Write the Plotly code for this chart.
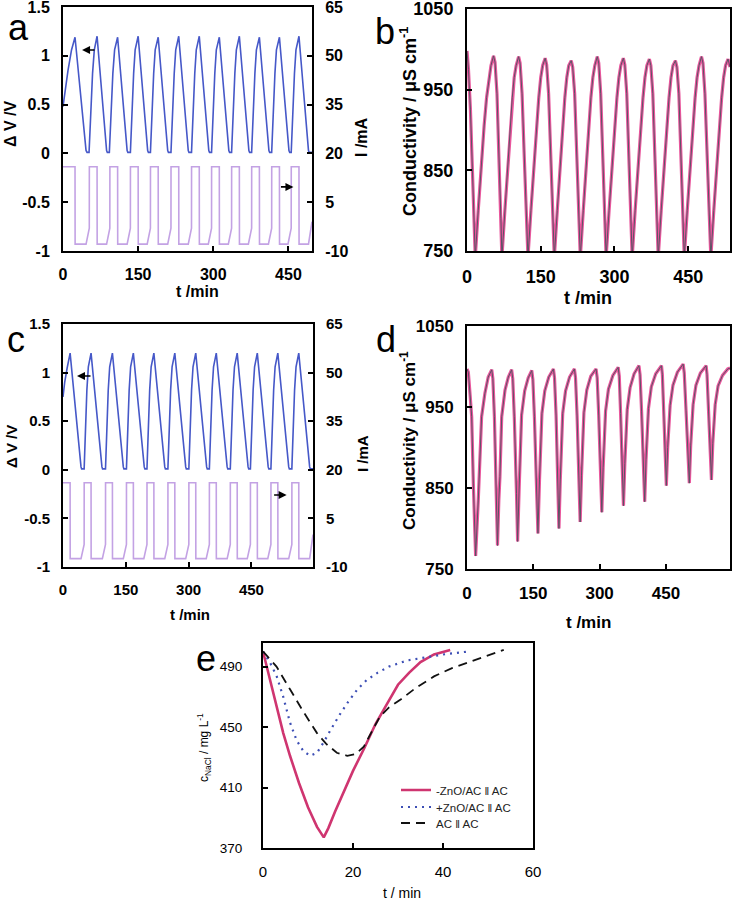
import plotly.graph_objects as go

# ---------------- DATA ----------------
# Panel a : cell voltage (V) and current (mA) vs time (min)
a_t_v = [0, 4, 10, 17, 24,
         46, 48, 52, 53, 56, 59, 62.5, 68,
         87, 88.5, 92.5, 93.5, 96, 99.5, 103, 109,
         128, 129.5, 134.5, 135.5, 138, 141, 144, 150,
         169, 170.5, 174.5, 175.5, 178, 181, 184, 190,
         209, 210.5, 215.5, 216.5, 219, 222, 225, 231,
         250, 251.5, 256.5, 257.5, 260, 263, 266, 272,
         291, 292.5, 296.5, 297.5, 300, 303, 306, 312,
         331, 332.5, 336.5, 337.5, 340, 343, 346, 352,
         371, 372.5, 376.5, 377.5, 380, 383, 386, 392,
         411, 412.5, 416.5, 417.5, 420, 423, 426, 432,
         451, 452.5, 455.5, 456.5, 459, 462, 465, 471,
         490, 491.5, 497]
a_v = [0.48, 0.65, 0.85, 1.06, 1.19,
       0.03, 0.01, 0.01, 0.15, 0.45, 0.82, 1.06, 1.2,
       0.03, 0.01, 0.01, 0.15, 0.45, 0.82, 1.06, 1.19,
       0.03, 0.01, 0.01, 0.15, 0.45, 0.82, 1.06, 1.2,
       0.03, 0.01, 0.01, 0.15, 0.45, 0.82, 1.06, 1.19,
       0.03, 0.01, 0.01, 0.15, 0.45, 0.82, 1.06, 1.2,
       0.03, 0.01, 0.01, 0.15, 0.45, 0.82, 1.06, 1.2,
       0.03, 0.01, 0.01, 0.15, 0.45, 0.82, 1.06, 1.19,
       0.03, 0.01, 0.01, 0.15, 0.45, 0.82, 1.06, 1.2,
       0.03, 0.01, 0.01, 0.15, 0.45, 0.82, 1.06, 1.19,
       0.03, 0.01, 0.01, 0.15, 0.45, 0.82, 1.06, 1.19,
       0.03, 0.01, 0.01, 0.15, 0.45, 0.82, 1.06, 1.2,
       0.03, 0.01, 0.01]
a_t_i = [0, 24, 24.2, 46, 52.5, 52.6,
         68, 68.2, 87, 93.5, 93.6,
         109, 109.2, 128, 134.5, 134.6,
         150, 150.2, 168, 174.5, 174.6,
         190, 190.2, 209, 215.5, 215.6,
         231, 231.2, 250, 256.5, 256.6,
         272, 272.2, 290, 296.5, 296.6,
         312, 312.2, 330, 336.5, 336.6,
         352, 352.2, 370, 376.5, 376.6,
         392, 392.2, 410, 416.5, 416.6,
         432, 432.2, 449, 455.5, 455.6,
         471, 471.2, 490, 497]
a_i = [15.9, 15.9, -7.9, -7.9, -3, 15.9,
       15.9, -7.9, -7.9, -3, 15.9,
       15.9, -7.9, -7.9, -3, 15.9,
       15.9, -7.9, -7.9, -3, 15.9,
       15.9, -7.9, -7.9, -3, 15.9,
       15.9, -7.9, -7.9, -3, 15.9,
       15.9, -7.9, -7.9, -3, 15.9,
       15.9, -7.9, -7.9, -3, 15.9,
       15.9, -7.9, -7.9, -3, 15.9,
       15.9, -7.9, -7.9, -3, 15.9,
       15.9, -7.9, -7.9, -3, 15.9,
       15.9, -7.9, -7.9, -1]

# Panel b : conductivity (uS/cm) vs time (min)
b_t = [0, 3, 7, 11, 15, 16.8,
       22.8, 28.8, 34.8, 39.8, 44.8, 48.8, 54, 57, 61, 65, 69, 71,
       77, 83, 88, 92, 96, 100, 105, 108, 112, 116, 120, 124,
       130, 136, 141, 146, 150, 154, 159, 162, 166, 170, 174, 177.6,
       183.6, 189.6, 194.6, 199, 203, 207, 212, 215, 219, 223, 227, 230.5,
       236.5, 242.5, 247.5, 252, 256, 260, 265, 268, 272, 276, 280, 283,
       289, 295, 300, 305, 309, 313, 318, 321, 325, 329, 333, 336,
       342, 348, 353, 358, 362, 366, 371, 374, 378, 382, 386, 389,
       395, 401, 406, 411, 415, 419, 424, 427, 431, 435, 439, 442,
       448, 454, 459, 464, 468, 472, 477, 480, 484, 488, 492, 496,
       502, 508, 513, 518, 522, 526, 531, 534, 535]
b_c = [998, 975, 925, 860, 785, 742,
       800, 855, 905, 940, 965, 980, 992, 984, 945, 875, 790, 742,
       800, 855, 905, 940, 965, 980, 991, 983, 945, 875, 790, 742,
       800, 855, 905, 940, 965, 980, 989, 981, 945, 875, 790, 742,
       800, 855, 905, 940, 965, 980, 986, 978, 945, 875, 790, 742,
       800, 855, 905, 940, 965, 980, 991, 983, 945, 875, 790, 742,
       800, 855, 905, 940, 965, 980, 989, 981, 945, 875, 790, 742,
       800, 855, 905, 940, 965, 980, 988, 980, 945, 875, 790, 742,
       800, 855, 905, 940, 965, 980, 986, 978, 945, 875, 790, 742,
       800, 855, 905, 940, 965, 980, 991, 983, 945, 875, 790, 742,
       800, 855, 905, 940, 965, 980, 988, 982, 978]

# Panel c : cell voltage (V) and current (mA) vs time (min)
c_t_v = [0, 4, 10, 17,
         43, 44.5, 50.5, 51.5, 54, 57, 60.5, 67,
         93, 94.5, 101.5, 102.5, 105, 108, 111.5, 118,
         144, 145.5, 151.5, 152.5, 155, 158, 161.5, 168,
         194, 195.5, 200.5, 201.5, 204, 207, 210.5, 217,
         243, 244.5, 250.5, 251.5, 254, 257, 260.5, 267,
         293, 294.5, 300.5, 301.5, 304, 307, 310.5, 317,
         343, 344.5, 349.5, 350.5, 353, 356, 359.5, 366,
         392, 393.5, 399.5, 400.5, 403, 406, 409.5, 416,
         442, 443.5, 447.5, 448.5, 451, 454, 457.5, 464,
         490, 491.5, 496.5, 497.5, 500, 503, 506.5, 513,
         539, 540.5, 546.5, 547.5, 550, 553, 556.5, 563,
         589, 590.5, 597]
c_v = [0.75, 0.9, 1.05, 1.2,
       0.03, 0.01, 0.01, 0.15, 0.45, 0.82, 1.06, 1.2,
       0.03, 0.01, 0.01, 0.15, 0.45, 0.82, 1.06, 1.2,
       0.03, 0.01, 0.01, 0.15, 0.45, 0.82, 1.06, 1.2,
       0.03, 0.01, 0.01, 0.15, 0.45, 0.82, 1.06, 1.2,
       0.03, 0.01, 0.01, 0.15, 0.45, 0.82, 1.06, 1.2,
       0.03, 0.01, 0.01, 0.15, 0.45, 0.82, 1.06, 1.2,
       0.03, 0.01, 0.01, 0.15, 0.45, 0.82, 1.06, 1.2,
       0.03, 0.01, 0.01, 0.15, 0.45, 0.82, 1.06, 1.2,
       0.03, 0.01, 0.01, 0.15, 0.45, 0.82, 1.06, 1.2,
       0.03, 0.01, 0.01, 0.15, 0.45, 0.82, 1.06, 1.2,
       0.03, 0.01, 0.01, 0.15, 0.45, 0.82, 1.06, 1.2,
       0.03, 0.01, 0.01]
c_t_i = [0, 17, 17.2, 43, 50.5, 50.6,
         67, 67.2, 94, 101.5, 101.6,
         118, 118.2, 144, 151.5, 151.6,
         168, 168.2, 193, 200.5, 200.6,
         217, 217.2, 243, 250.5, 250.6,
         267, 267.2, 293, 300.5, 300.6,
         317, 317.2, 342, 349.5, 349.6,
         366, 366.2, 392, 399.5, 399.6,
         416, 416.2, 440, 447.5, 447.6,
         464, 464.2, 489, 496.5, 496.6,
         513, 513.2, 539, 546.5, 546.6,
         563, 563.2, 589, 597]
c_i = [16, 16, -7.4, -7.4, -3, 16,
       16, -7.4, -7.4, -3, 16,
       16, -7.4, -7.4, -3, 16,
       16, -7.4, -7.4, -3, 16,
       16, -7.4, -7.4, -3, 16,
       16, -7.4, -7.4, -3, 16,
       16, -7.4, -7.4, -3, 16,
       16, -7.4, -7.4, -3, 16,
       16, -7.4, -7.4, -3, 16,
       16, -7.4, -7.4, -3, 16,
       16, -7.4, -7.4, -3, 16,
       16, -7.4, -7.4, 0]

# Panel d : conductivity (uS/cm) vs time (min)
d_t = [0, 3, 7, 10.6, 14.3, 17.5, 19.5,
       25.5, 33, 40.5, 48, 56, 58.5, 62, 67, 69,
       72, 74.5, 78.5, 86, 93.5, 101, 103.5, 107, 112, 114.5,
       118, 120, 123.5, 130.5, 138.5, 146.5, 149, 152.5, 158, 160.5,
       164, 166, 169.5, 176, 185, 195.5, 198, 201.5, 206, 208,
       211, 213, 216.5, 223, 232, 243, 245.5, 249, 253.5, 256,
       259, 261, 264.5, 271, 280, 292, 294.5, 298, 302.5, 305,
       308, 310, 313.5, 320, 330, 342, 344.5, 347.5, 351.5, 354,
       357, 359, 362.5, 369, 378, 389, 391.5, 395, 399.5, 402,
       405, 407, 410.5, 417, 427, 440, 442, 445, 449, 451,
       454, 456, 459.5, 466, 476, 489, 491.5, 495.5, 500.5, 503,
       506, 508, 511.5, 518, 528, 541, 543, 546.5, 550.5, 553,
       556, 558, 561.5, 568, 578, 590, 595]
d_c = [997, 993, 965, 938, 856, 790, 766,
       835, 938, 967, 987, 996, 985, 938, 843, 779,
       835, 864, 938, 971, 987, 996, 985, 938, 843, 784,
       850, 875, 940, 970, 986, 995, 984, 938, 850, 794,
       860, 885, 942, 970, 987, 997, 986, 940, 855, 800,
       860, 888, 942, 970, 987, 997, 986, 940, 860, 808,
       865, 892, 943, 971, 988, 997, 986, 940, 865, 820,
       875, 900, 945, 972, 989, 999, 988, 942, 870, 828,
       880, 905, 947, 974, 991, 1001, 990, 944, 875, 833,
       885, 908, 948, 975, 991, 1001, 990, 945, 885, 853,
       900, 918, 952, 977, 993, 1003, 992, 946, 885, 856,
       902, 920, 953, 977, 992, 1001, 990, 945, 890, 860,
       905, 922, 953, 976, 989, 997, 998]

# Panel e : NaCl concentration (mg/L) vs time (min)
e_names = ["-ZnO/AC \u2016 AC", "+ZnO/AC \u2016 AC", "AC \u2016 AC"]
e1_t = [0, 1.5, 3, 4.5, 6, 8, 10, 12, 13.5, 14.5, 16, 18, 20, 22.5, 25, 27.5, 30, 32.5, 35, 38, 41.6]
e1_c = [500, 482, 463, 446, 431, 413, 397, 384, 377, 383, 394, 408, 421, 436, 452, 465, 478, 486, 493, 498, 501]
e2_t = [0, 1.5, 3, 4.5, 6, 7.5, 9, 10.5, 12, 13.5, 15, 17, 19, 21, 23, 25.5, 28, 32, 36, 40, 45.7]
e2_c = [500, 493, 484, 470, 453, 441, 434, 431, 433, 440, 448, 458, 467, 475, 481, 486, 490, 494, 496, 498, 500]
e3_t = [0, 3, 6, 9, 12, 14, 16.4, 18.7, 20.5, 22.4, 24, 26, 28, 30.5, 34, 38, 42, 45.3, 50, 53.5]
e3_c = [500, 490, 475, 460, 446, 439, 433, 431, 432, 437, 446, 457, 463, 468, 476, 483.5, 489, 492.5, 497, 501]

# tick labels
t_ticks = [0, 150, 300, 450]
t_text = ["0", "150", "300", "450"]
v_ticks = [1.5, 1, 0.5, 0, -0.5, -1]
v_text = ["1.5", "1", "0.5", "0", "-0.5", "-1"]
i_ticks = [65, 50, 35, 20, 5, -10]
i_text = ["65", "50", "35", "20", "5", "-10"]
k_ticks = [750, 850, 950, 1050]
k_text = ["750", "850", "950", "1050"]
e_x_ticks = [0, 20, 40, 60]
e_x_text = ["0", "20", "40", "60"]
e_y_ticks = [370, 410, 450, 490]
e_y_text = ["370", "410", "450", "490"]

# ---------------- FIGURE ----------------
W, H = 732, 905
FONT = "Liberation Sans, Arial, Helvetica, sans-serif"
V_COL = "#4658c8"
I_COL = "#c3a2e4"
PINK = "#e9579d"
GRAY = "#5a5464"


def px(x):
    return min(1.0, max(0.0, x / W))


def py(y):
    return min(1.0, max(0.0, 1 - y / H))


fig = go.Figure()
fig.add_trace(go.Scatter(x=a_t_v, y=a_v, xaxis="x", yaxis="y", mode="lines",
                         line=dict(color=V_COL, width=1.6), showlegend=False))
fig.add_trace(go.Scatter(x=a_t_i, y=a_i, xaxis="x", yaxis="y2", mode="lines",
                         line=dict(color=I_COL, width=1.6), showlegend=False))
fig.add_trace(go.Scatter(x=b_t, y=b_c, xaxis="x2", yaxis="y3", mode="lines",
                         line=dict(color=PINK, width=3.2), showlegend=False))
fig.add_trace(go.Scatter(x=b_t, y=b_c, xaxis="x2", yaxis="y3", mode="lines",
                         line=dict(color=GRAY, width=1), showlegend=False))
fig.add_trace(go.Scatter(x=c_t_v, y=c_v, xaxis="x3", yaxis="y4", mode="lines",
                         line=dict(color=V_COL, width=1.6), showlegend=False))
fig.add_trace(go.Scatter(x=c_t_i, y=c_i, xaxis="x3", yaxis="y5", mode="lines",
                         line=dict(color=I_COL, width=1.6), showlegend=False))
fig.add_trace(go.Scatter(x=d_t, y=d_c, xaxis="x4", yaxis="y6", mode="lines",
                         line=dict(color=PINK, width=3.2), showlegend=False))
fig.add_trace(go.Scatter(x=d_t, y=d_c, xaxis="x4", yaxis="y6", mode="lines",
                         line=dict(color=GRAY, width=1), showlegend=False))
fig.add_trace(go.Scatter(x=e1_t, y=e1_c, xaxis="x5", yaxis="y7", mode="lines", name=e_names[0],
                         legend="legend", line=dict(color="#cf3570", width=2.6)))
fig.add_trace(go.Scatter(x=e2_t, y=e2_c, xaxis="x5", yaxis="y7", mode="lines", name=e_names[1],
                         legend="legend2", line=dict(color="#3d4fb5", width=2.2, dash="2px,5px")))
fig.add_trace(go.Scatter(x=e3_t, y=e3_c, xaxis="x5", yaxis="y7", mode="lines", name=e_names[2],
                         legend="legend3", line=dict(color="#111111", width=1.8, dash="9px,6px")))


def ax(domain, rng, tv, tt, size, bold=True, mirror=True, anchor=None, side=None,
       overlaying=None, standoff=8):
    labels = ["<b>%s</b>" % s for s in tt] if bold else list(tt)
    d = dict(range=rng, tickmode="array", tickvals=tv, ticktext=labels,
             ticks="inside", ticklen=5, tickwidth=1.5, tickcolor="black",
             showline=True, linewidth=2, linecolor="black", mirror=mirror,
             showgrid=False, zeroline=False, automargin=False,
             ticklabelstandoff=standoff, ticklabeloverflow="allow",
             tickfont=dict(family=FONT, size=size, color="black"))
    if domain is not None:
        d["domain"] = domain
    if anchor:
        d["anchor"] = anchor
    if side:
        d["side"] = side
    if overlaying:
        d["overlaying"] = overlaying
    return d


def leg(y):
    return dict(x=px(396), y=py(y), xanchor="left", yanchor="middle",
                bgcolor="rgba(0,0,0,0)", borderwidth=0, itemwidth=30,
                font=dict(family=FONT, size=11.5, color="#222"))


fig.update_layout(
    template="none",
    width=W, height=H, margin=dict(l=0, r=0, t=0, b=0, pad=0, autoexpand=False),
    paper_bgcolor="white", plot_bgcolor="white",
    font=dict(family=FONT, color="black"),
    # panel a
    xaxis=ax([px(63), px(312)], [0, 497], t_ticks, t_text, 16, anchor="y"),
    yaxis=ax([py(251), py(7)], [-1, 1.5], v_ticks, v_text, 16, mirror=False, anchor="x"),
    yaxis2=ax(None, [-10, 65], i_ticks, i_text, 16, mirror=False, anchor="x",
              side="right", overlaying="y"),
    # panel b
    xaxis2=ax([px(467), px(730)], [0, 535], t_ticks, t_text, 18, anchor="y3"),
    yaxis3=ax([py(251), py(9)], [750, 1050], k_ticks, k_text, 18, anchor="x2"),
    # panel c
    xaxis3=ax([px(63), px(313)], [0, 597], t_ticks, t_text, 15, anchor="y4"),
    yaxis4=ax([py(567), py(324)], [-1, 1.5], v_ticks, v_text, 15, mirror=False, anchor="x3"),
    yaxis5=ax(None, [-10, 65], i_ticks, i_text, 15, mirror=False, anchor="x3",
              side="right", overlaying="y4"),
    # panel d
    xaxis4=ax([px(467), px(730)], [0, 595], t_ticks, t_text, 17, anchor="y6"),
    yaxis6=ax([py(569), py(326)], [750, 1050], k_ticks, k_text, 17, anchor="x4"),
    # panel e
    xaxis5=ax([px(263), px(533)], [0, 60], e_x_ticks, e_x_text, 15, bold=False,
              anchor="y7", standoff=9),
    yaxis7=ax([py(848), py(643)], [370, 505.6], e_y_ticks, e_y_text, 13.5, bold=False,
              anchor="x5", standoff=16),
    legend=leg(790),
    legend2=leg(807),
    legend3=leg(823),
)

annots = []


def txt(text, x, y, size, bold=True, angle=0):
    annots.append(dict(text=text, x=x / W, y=1 - y / H, xref="paper", yref="paper",
                       xanchor="center", yanchor="middle", showarrow=False,
                       textangle=angle,
                       font=dict(family=FONT, size=size, color="black",
                                 weight="bold" if bold else "normal")))


# panel letters
txt("a", 18, 28, 36, bold=False)
txt("b", 385, 31, 36, bold=False)
txt("c", 16, 339, 36, bold=False)
txt("d", 386, 340, 36, bold=False)
txt("e", 206, 658, 36, bold=False)
# axis titles
txt("t /min", 197, 291, 16)
txt("\u0394 V /V", 11, 124, 16, angle=-90)
txt("I /mA", 361, 137, 16, angle=-90)
txt("t /min", 588, 298, 18)
txt("Conductivity / \u03bcS cm<sup>-1</sup>", 408, 121, 18, angle=-90)
txt("t /min", 190, 614, 15)
txt("\u0394 V /V", 11, 447, 15, angle=-90)
txt("I /mA", 362, 454, 15, angle=-90)
txt("t /min", 588, 622, 17)
txt("Conductivity / \u03bcS cm<sup>-1</sup>", 408, 440, 17, angle=-90)
txt("t / min", 402, 893, 14, bold=False)
txt("c<sub>NaCl</sub> / mg L<sup>-1</sup>", 204, 747, 12, bold=False, angle=-90)

# arrows pointing to the relevant axis
arrows = [("x", "y", 38, 1.06, 14), ("x", "y2", 460, 9.7, -14),
          ("x3", "y4", 33.4, 0.965, 15), ("x3", "y5", 534, 12.2, -14)]
for xr, yr, xv, yv, dx in arrows:
    annots.append(dict(x=xv, y=yv, xref=xr, yref=yr, ax=dx, ay=0, text="",
                       showarrow=True, arrowhead=2, arrowsize=1, arrowwidth=1.6,
                       arrowcolor="black"))

fig.update_layout(annotations=annots)
# remove the browser's default 8 px page margin so the figure fills the window
fig.write_html("out.html", config={"displayModeBar": False},
               post_script="document.body.style.margin='0';")
